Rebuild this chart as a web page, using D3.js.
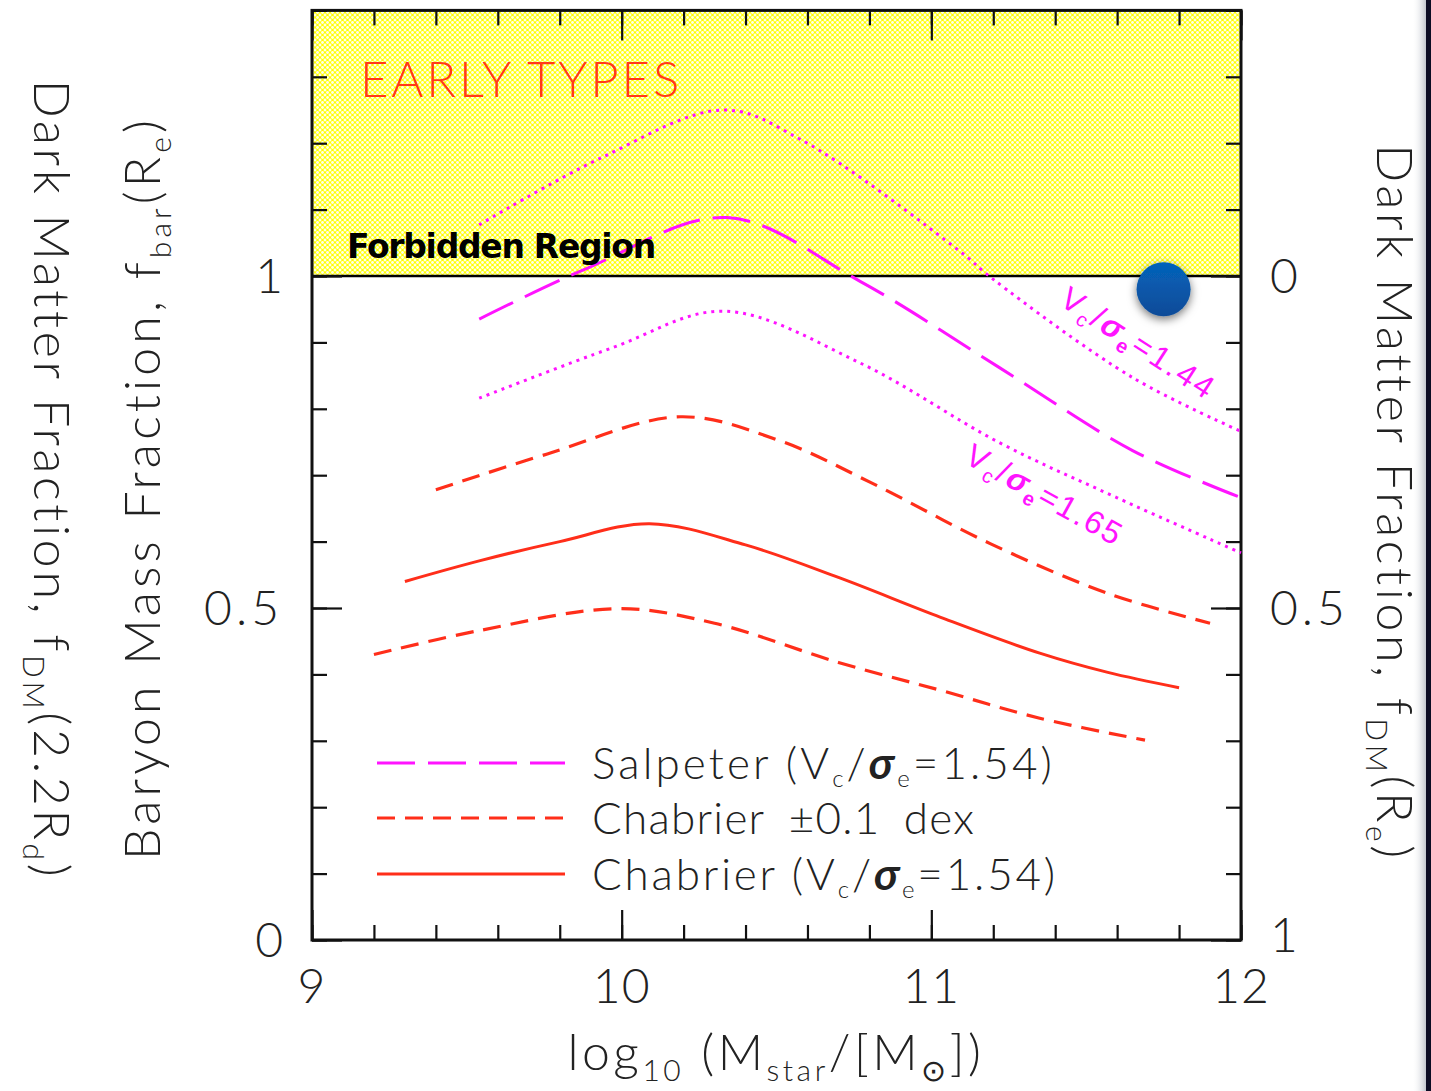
<!DOCTYPE html>
<html><head><meta charset="utf-8">
<script src="https://cdn.jsdelivr.net/npm/d3@7"></script>
<style>body{margin:0;background:#fff;overflow:hidden} svg{display:block}</style>
</head><body>
<svg id="c" width="1431" height="1091"></svg>
<script>
// ---- data ----
const chabX   = [9.30, 9.54, 9.80, 10.09, 10.40, 10.70, 11.03, 11.35, 11.57, 11.80];
const chabY   = [0.540, 0.571, 0.600, 0.627, 0.595, 0.546, 0.486, 0.432, 0.403, 0.380];
const chabLoX = [9.20, 9.54, 9.99, 10.30, 10.70, 11.03, 11.35, 11.69];
const chabLoY = [0.430, 0.466, 0.499, 0.477, 0.418, 0.376, 0.334, 0.301];
const chabHiX = [9.40, 9.76, 10.19, 10.51, 10.80, 11.19, 11.57, 11.90];
const chabHiY = [0.678, 0.732, 0.788, 0.752, 0.690, 0.597, 0.522, 0.477];
const salpX   = [9.54, 9.89, 10.34, 10.77, 11.22, 11.65, 11.99];
const salpY   = [0.935, 1.012, 1.088, 0.992, 0.862, 0.737, 0.668];
const v165X   = [9.54, 9.97, 10.33, 10.77, 11.22, 11.60, 12.00];
const v165Y   = [0.816, 0.892, 0.947, 0.869, 0.749, 0.666, 0.583];
const v144X   = [9.54, 9.93, 10.33, 10.58, 11.09, 11.20, 11.65, 12.00];
const v144Y   = [1.077, 1.177, 1.250, 1.205, 1.038, 0.995, 0.847, 0.766];
const xTickLabels = ["9","10","11","12"];
const xTickVals = [9,10,11,12];
const yLeftLabels = ["0","0.5","1"];
const yRightLabels = ["1","0.5","0"];
const yTickVals = [0,0.5,1];
const legendLabels = ["Salpeter","Chabrier","Chabrier"];
const forbiddenRange = [1, 1.4];
const bluePoint = [11.75, 0.98];

// ---- setup ----
const svg = d3.select("#c");
const x = d3.scaleLinear().domain([9,12]).range([312,1241]);
const y = d3.scaleLinear().domain([0,1.4]).range([940,10.4]);
const MAG = "#ff14ff", RED = "#ff2e1a";
const FONT = "Lato, 'DejaVu Sans', sans-serif";

const defs = svg.append("defs");
const pat = defs.append("pattern").attr("id","hatch").attr("patternUnits","userSpaceOnUse")
  .attr("width",5).attr("height",5);
pat.append("rect").attr("width",5).attr("height",5).attr("fill","#ffff00");
[[2.5,2.5],[0,0],[5,0],[0,5],[5,5]].forEach(p=>pat.append("circle").attr("cx",p[0]).attr("cy",p[1]).attr("r",1.45).attr("fill","#fff").attr("opacity",0.9));
const f = defs.append("filter").attr("id","shadow").attr("x","-50%").attr("y","-50%").attr("width","200%").attr("height","200%");
f.append("feDropShadow").attr("dx",0).attr("dy",3).attr("stdDeviation",5).attr("flood-color","#000").attr("flood-opacity",0.55);
const rg = defs.append("linearGradient").attr("id","blue").attr("x1",0).attr("y1",0).attr("x2",0).attr("y2",1);
rg.append("stop").attr("offset","0").attr("stop-color","#0563bb");
rg.append("stop").attr("offset","1").attr("stop-color","#0b4b98");
const eg = defs.append("linearGradient").attr("id","edge").attr("x1",0).attr("y1",0).attr("x2",1).attr("y2",0);
eg.append("stop").attr("offset","0").attr("stop-color","#fff").attr("stop-opacity",0);
eg.append("stop").attr("offset","1").attr("stop-color","#8890a0").attr("stop-opacity",0.6);

function applyAttrs(sel,o){ for(const k in o) sel.attr(k,o[k]); return sel; }
// stretch a text element to a target width via letter-spacing
function fit(sel, target){
  const node = sel.node();
  sel.attr("letter-spacing",0);
  const w = node.getComputedTextLength();
  const n = node.textContent.length;
  sel.attr("letter-spacing",((target - w)/n).toFixed(2));
  return sel;
}

// forbidden region
svg.append("rect").attr("x",x(9)).attr("y",y(forbiddenRange[1])).attr("width",x(12)-x(9))
  .attr("height",y(forbiddenRange[0])-y(forbiddenRange[1])).attr("fill","url(#hatch)");
svg.append("line").attr("x1",x(9)).attr("x2",x(12)).attr("y1",y(1)).attr("y2",y(1))
  .attr("stroke","#000").attr("stroke-width",2.5);

// axes ticks
const minorX = d3.range(9,12.001,0.2).map(v=>+v.toFixed(1));
const minorY = d3.range(0,1.401,0.1).map(v=>+v.toFixed(1));
function styleAxis(g){ g.select(".domain").remove(); g.selectAll("line").attr("stroke","#111").attr("stroke-width",2.2); g.selectAll("text").remove(); }
svg.append("g").attr("transform",`translate(0,${y(0)})`).call(d3.axisBottom(x).tickValues(minorX).tickSize(-15)).call(styleAxis);
svg.append("g").attr("transform",`translate(0,${y(0)})`).call(d3.axisBottom(x).tickValues(xTickVals).tickSize(-30)).call(styleAxis);
svg.append("g").attr("transform",`translate(0,${y(1.4)})`).call(d3.axisTop(x).tickValues(minorX).tickSize(-15)).call(styleAxis);
svg.append("g").attr("transform",`translate(0,${y(1.4)})`).call(d3.axisTop(x).tickValues(xTickVals).tickSize(-30)).call(styleAxis);
svg.append("g").attr("transform",`translate(${x(9)},0)`).call(d3.axisLeft(y).tickValues(minorY).tickSize(-15)).call(styleAxis);
svg.append("g").attr("transform",`translate(${x(9)},0)`).call(d3.axisLeft(y).tickValues(yTickVals).tickSize(-30)).call(styleAxis);
svg.append("g").attr("transform",`translate(${x(12)},0)`).call(d3.axisRight(y).tickValues(minorY).tickSize(-15)).call(styleAxis);
svg.append("g").attr("transform",`translate(${x(12)},0)`).call(d3.axisRight(y).tickValues(yTickVals).tickSize(-30)).call(styleAxis);

// frame
svg.append("rect").attr("x",x(9)).attr("y",y(1.4)).attr("width",x(12)-x(9)).attr("height",y(0)-y(1.4))
  .attr("fill","none").attr("stroke","#111").attr("stroke-width",3);

// tick labels
const tl = {"font-family":FONT,"font-size":48,"font-weight":300,"fill":"#222"};
xTickVals.forEach((v,i)=>applyAttrs(svg.append("text"),tl).attr("x",x(v)).attr("y",1003).attr("text-anchor","middle").attr("letter-spacing",1).text(xTickLabels[i]));
yTickVals.forEach((v,i)=>applyAttrs(svg.append("text"),tl).attr("x",283).attr("y",y(v)+17).attr("text-anchor","end").attr("letter-spacing",i===1?4:0).text(yLeftLabels[i]));
yTickVals.forEach((v,i)=>applyAttrs(svg.append("text"),tl).attr("x",1270).attr("y",y(v)+(i===0?12:17)).attr("text-anchor","start").attr("letter-spacing",i===1?4:0).text(yRightLabels[i]));

// curves
const line = d3.line().x(d=>x(d[0])).y(d=>y(d[1])).curve(d3.curveCatmullRom.alpha(0.5));
function curve(xs,ys,color,dash,w){
  svg.append("path").attr("d",line(xs.map((v,i)=>[v,ys[i]]))).attr("fill","none")
    .attr("stroke",color).attr("stroke-width",w||3).attr("stroke-dasharray",dash||null);
}
curve(chabX,chabY,RED,null,3);
curve(chabLoX,chabLoY,RED,"18,10",3.2);
curve(chabHiX,chabHiY,RED,"18,10",3.2);
curve(salpX,salpY,MAG,"38,13",3);
curve(v165X,v165Y,MAG,"3,5",3);
curve(v144X,v144Y,MAG,"3,5",3);

// curve labels
function vlabel(txt,px,py,ang,len){
  const t = svg.append("text").attr("transform",`translate(${px},${py}) rotate(${ang})`)
    .attr("font-family","'Liberation Sans', Arial, sans-serif").attr("font-size",32).attr("fill",MAG);
  t.append("tspan").text("V");
  t.append("tspan").attr("font-size",20).attr("dy",7).text("c");
  t.append("tspan").attr("dy",-7).text("/");
  t.append("tspan").attr("font-style","italic").attr("font-weight","bold").text("σ");
  t.append("tspan").attr("font-size",20).attr("dy",7).attr("font-weight","bold").text("e");
  t.append("tspan").attr("dy",-7).text("="+txt);
  fit(t,len);
}
vlabel("1.44",1058,304,33,178);
vlabel("1.65",963,462,29,175);

// texts in forbidden region
fit(svg.append("text").attr("x",360).attr("y",97).attr("font-family",FONT).attr("font-size",49).attr("font-weight",300)
  .attr("fill","#ff3a1a").text("EARLY TYPES"),322);
fit(svg.append("text").attr("x",347).attr("y",258).attr("font-family","'DejaVu Sans', sans-serif").attr("font-size",33)
  .attr("font-weight","bold").attr("fill","#000").text("Forbidden Region"),308);

// blue point
svg.append("circle").attr("cx",x(bluePoint[0])).attr("cy",y(bluePoint[1])).attr("r",27)
  .attr("fill","url(#blue)").attr("filter","url(#shadow)");

// legend
const legY = [763, 818, 874];
const legDash = ["38,13","18,10",null];
const legCol = [MAG, RED, RED];
const legW = [463, 383, 466];
legY.forEach((ly,i)=>{
  svg.append("line").attr("x1",377).attr("x2",565).attr("y1",ly).attr("y2",ly)
    .attr("stroke",legCol[i]).attr("stroke-width",3).attr("stroke-dasharray",legDash[i]);
  const t = applyAttrs(svg.append("text"),{"font-family":FONT,"font-size":44,"font-weight":300,"fill":"#222"})
    .attr("x",592).attr("y",ly+16);
  t.append("tspan").text(legendLabels[i]);
  if(i===1){ t.append("tspan").text(" ±0.1 dex").attr("word-spacing",10); }
  else {
    t.append("tspan").text(" (V");
    t.append("tspan").attr("font-size",24).attr("dy",8).text("c");
    t.append("tspan").attr("dy",-8).text("/");
    t.append("tspan").attr("font-style","italic").attr("font-weight","bold").text("σ");
    t.append("tspan").attr("font-size",24).attr("dy",8).text("e");
    t.append("tspan").attr("dy",-8).text("=1.54)");
  }
  fit(t,legW[i]);
});

// axis titles
const at = {"font-family":FONT,"font-size":50,"font-weight":300,"fill":"#222"};
const xt = applyAttrs(svg.append("text"),at).attr("x",776).attr("y",1070).attr("text-anchor","middle");
xt.append("tspan").text("log");
xt.append("tspan").attr("font-size",30).attr("dy",11).text("10");
xt.append("tspan").attr("dy",-11).text(" (M");
xt.append("tspan").attr("font-size",30).attr("dy",11).text("star");
xt.append("tspan").attr("dy",-11).text("/[M");
xt.append("tspan").attr("font-size",30).attr("dy",11).text("⊙");
xt.append("tspan").attr("dy",-11).text("])");
fit(xt,417);

const yl = applyAttrs(svg.append("text"),at).attr("transform","translate(160,488) rotate(-90)").attr("text-anchor","middle");
yl.append("tspan").text("Baryon Mass Fraction, f");
yl.append("tspan").attr("font-size",30).attr("dy",11).text("bar");
yl.append("tspan").attr("dy",-11).text("(R");
yl.append("tspan").attr("font-size",30).attr("dy",11).text("e");
yl.append("tspan").attr("dy",-11).text(")");
fit(yl,745);

const yo = applyAttrs(svg.append("text"),at).attr("transform","translate(34,480) rotate(90)").attr("text-anchor","middle");
yo.append("tspan").text("Dark Matter Fraction, f");
yo.append("tspan").attr("font-size",30).attr("dy",11).text("DM");
yo.append("tspan").attr("dy",-11).text("(2.2R");
yo.append("tspan").attr("font-size",30).attr("dy",11).text("d");
yo.append("tspan").attr("dy",-11).text(")");
fit(yo,800);

const yr = applyAttrs(svg.append("text"),at).attr("transform","translate(1377,503) rotate(90)").attr("text-anchor","middle");
yr.append("tspan").text("Dark Matter Fraction, f");
yr.append("tspan").attr("font-size",30).attr("dy",11).text("DM");
yr.append("tspan").attr("dy",-11).text("(R");
yr.append("tspan").attr("font-size",30).attr("dy",11).text("e");
yr.append("tspan").attr("dy",-11).text(")");
fit(yr,717);

// right slide edge
svg.append("rect").attr("x",1412).attr("y",0).attr("width",15).attr("height",1091).attr("fill","url(#edge)");
svg.append("rect").attr("x",1426).attr("y",0).attr("width",5).attr("height",1091).attr("fill","#0c0c24");
</script>
</body></html>
